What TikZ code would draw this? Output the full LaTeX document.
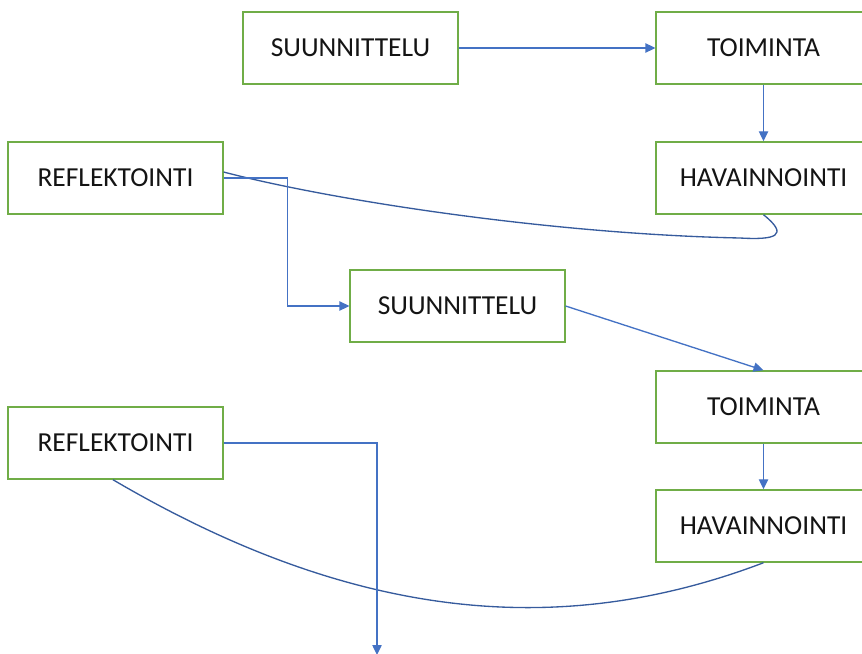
\documentclass[tikz,border=0pt]{standalone}
\usepackage{fontspec}
\setmainfont{Carlito}
\usepackage{tikz}
\usetikzlibrary{%
arrows.meta,%
calc,%
positioning}
\definecolor{boxgreen}{HTML}{70AD47}
\definecolor{lineblue}{HTML}{4472C4}
\tikzset{
  vaihe/.style={draw=boxgreen,line width=1.1pt,fill=white,text=black!92,
    minimum width=161pt,minimum height=54pt,inner sep=0pt,
    font=\fontsize{20.6}{24}\selectfont},
  nuoli/.style={draw=lineblue,line width=1pt,-{Triangle[length=7.5pt,width=7pt]}},
  kaari/.style={draw=lineblue!80!black,line width=1pt}
}

\begin{document}
\begin{tikzpicture}[x=0.75pt,y=-0.75pt]
\useasboundingbox (0,0) rectangle (862,653);
\clip (0,0) rectangle (862,653);
% kierros 1
\node[vaihe] (suun1) at (350.5,48) {SUUNNITTELU};
\node[vaihe] (toim1) at (763.5,48) {TOIMINTA};
\node[vaihe] (hav1) at (763.5,178) {HAVAINNOINTI};
\node[vaihe] (refl1) at (115.5,178) {REFLEKTOINTI};
% kierros 2
\node[vaihe] (suun2) at (457.5,306) {SUUNNITTELU};
\node[vaihe] (toim2) at (763.5,407) {TOIMINTA};
\node[vaihe] (hav2) at (763.5,526) {HAVAINNOINTI};
\node[vaihe] (refl2) at (115.5,443) {REFLEKTOINTI};
\coordinate (jatko) at (377,655);

\begin{scope}
    \draw[nuoli] (suun1.east) -- (toim1.west);
    \draw[nuoli] (toim1.south) -- (hav1.north);
    \draw[kaari] (hav1.south) .. controls (790,236) and (775,240) .. (740,238)
        .. controls (550,234) and (330,200) .. ($(refl1.east)+(0,-6)$);
    \draw[nuoli] (refl1.east) -- ++(64,0) |- (suun2.west);
    \draw[nuoli] (suun2.east) -- (toim2.north);
    \draw[nuoli] (toim2.south) -- (hav2.north);
    \draw[kaari] (hav2.south) .. controls (560,640) and (353,620.6) .. ($(refl2.south)+(-2.5,0)$);
    \draw[nuoli] (refl2.east) -| (jatko);
\end{scope}
\end{tikzpicture}
\end{document}
